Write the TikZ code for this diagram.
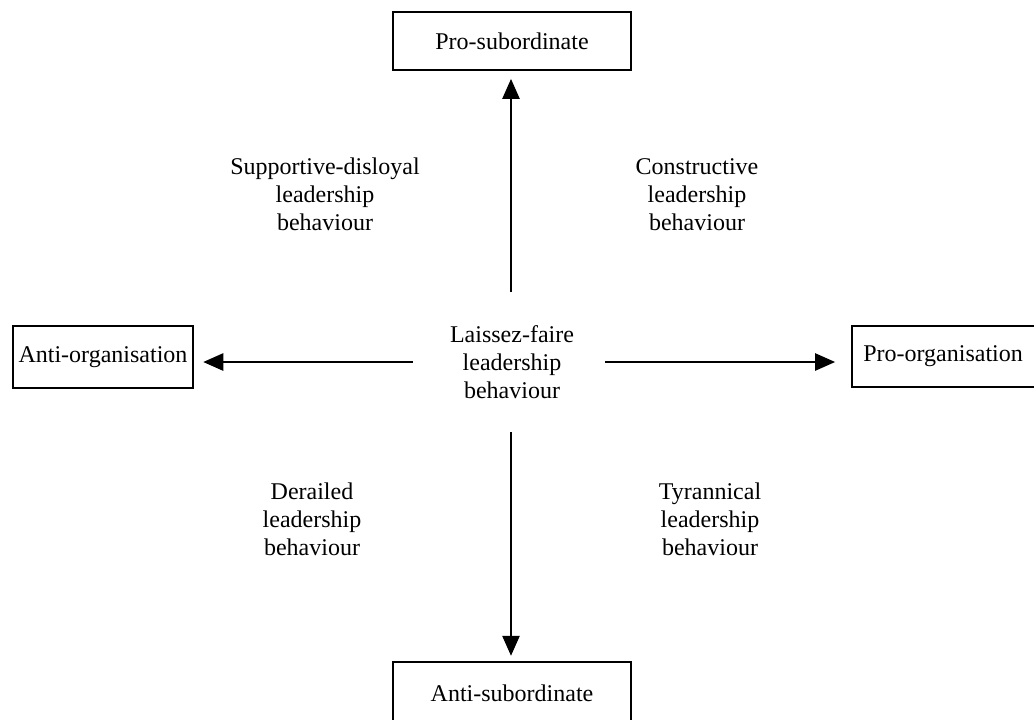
\documentclass[tikz,border=0pt]{standalone}
\usepackage{fontspec}
\setmainfont{Liberation Serif}
\usetikzlibrary{arrows.meta}
\begin{document}
\begin{tikzpicture}[x=0.75pt,y=-0.75pt,
  box/.style={draw=black,line width=1.4pt,rectangle,inner sep=0pt,font=\fontsize{18}{21}\selectfont},
  lbl/.style={align=center,inner sep=0pt,font=\fontsize{18}{21}\selectfont},
  arr/.style={draw=black,line width=1.2pt,-{Triangle[length=15pt,width=13pt]}}]
\useasboundingbox (0,0) rectangle (1034,719);
\fill[white] (0,0) rectangle (1034,719);
% boxes
\node[box,minimum width=238*0.75pt,minimum height=58*0.75pt] (ps) at (512,41) {Pro-subordinate};
\node[box,minimum width=238*0.75pt,minimum height=62*0.75pt] (as) at (512,693) {Anti-subordinate};
\node[box,minimum width=180*0.75pt,minimum height=62*0.75pt] (ao) at (103,357) {Anti-organisation};
\node[box,minimum width=190*0.75pt,minimum height=61*0.75pt,text width=170*0.75pt,align=left] (po) at (947,356.5) {\hspace*{1pt}Pro-organisation};
% centre label
\node[lbl] (c) at (512,362) {Laissez-faire\\leadership\\behaviour};
% quadrant labels
\node[lbl] (q1) at (325,194) {Supportive-disloyal\\leadership\\behaviour};
\node[lbl] (q2) at (697,195) {Constructive\\leadership\\behaviour};
\node[lbl] (q3) at (312,519) {Derailed\\leadership\\behaviour};
\node[lbl] (q4) at (710,519) {Tyrannical\\leadership\\behaviour};
% arrow start points
\coordinate (cu) at (511,292);
\coordinate (cd) at (511,432);
\coordinate (cl) at (413,362);
\coordinate (cr) at (605,362);
\draw[arr,shorten >=6pt] (cu) -- (ps.south -| cu);
\draw[arr,shorten >=4pt] (cd) -- (as.north -| cd);
\draw[arr,shorten >=7pt] (cl) -- (ao.east |- cl);
\draw[arr,shorten >=12pt] (cr) -- (po.west |- cr);
\end{tikzpicture}
\end{document}
